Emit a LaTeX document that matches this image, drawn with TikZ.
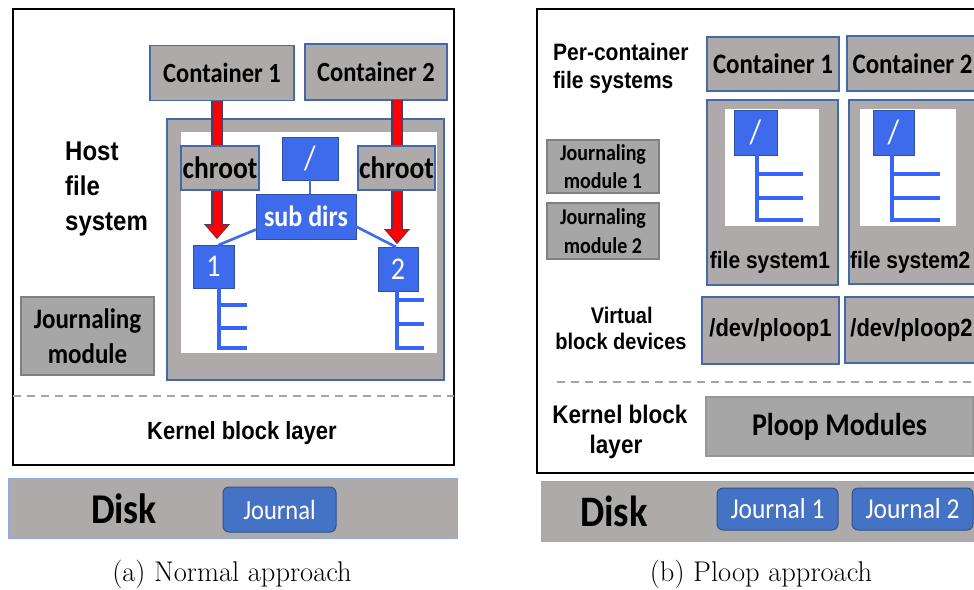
\documentclass[tikz,border=0pt]{standalone}
\usepackage{fontspec}
\usepackage{graphicx}
\usetikzlibrary{arrows.meta,calc}
\newfontfamily\calfam{Carlito}
\newfontfamily\arifam{Liberation Sans}
\newcommand\fcb[1]{\calfam\bfseries\fontsize{#1}{#1}\selectfont}
\newcommand\fcbl[2]{\calfam\bfseries\fontsize{#1}{#2}\selectfont}
\newcommand\fcreg[1]{\calfam\fontsize{#1}{#1}\selectfont}
\newcommand\fab[1]{\arifam\bfseries\fontsize{#1}{#1}\selectfont}
\newcommand\vs[1]{\scalebox{1}[1.13]{#1}}
\definecolor{boxgray}{RGB}{174,170,170}
\definecolor{boxedge}{RGB}{68,105,170}
\definecolor{jmgray}{RGB}{166,166,166}
\definecolor{jmedge}{RGB}{128,128,128}
\definecolor{ploopedge}{RGB}{150,150,150}
\definecolor{rootblue}{RGB}{62,106,236}
\definecolor{rootedge}{RGB}{50,80,160}
\definecolor{treeblue}{RGB}{55,100,250}
\definecolor{jblue}{RGB}{68,114,196}
\definecolor{jedge}{RGB}{47,82,143}
\definecolor{diskedge}{RGB}{143,170,220}
\definecolor{dashgray}{RGB}{165,165,165}
\definecolor{arrowedge}{RGB}{70,60,110}
\begin{document}
\begin{tikzpicture}[x=1pt,y=-1pt,
 box/.style={inner sep=0pt,outer sep=0pt,align=center},
 gbox/.style={box,draw=boxedge,fill=boxgray,line width=1.2pt},
 jbox/.style={box,draw=jmedge,fill=jmgray,line width=1.2pt},
 rbox/.style={box,draw=rootedge,fill=rootblue,line width=0.8pt,text=white},
 jnl/.style={box,draw=jedge,fill=jblue,line width=1pt,rounded corners=6pt,text=white},
 dbox/.style={box,draw=diskedge,fill=boxgray,line width=1pt},
 frame/.style={box,draw=black,line width=1.2pt},
 whitebox/.style={box,fill=white},
 tree/.style={draw=treeblue,line width=3.3pt},
 lnk/.style={draw=rootblue,line width=2.6pt},
 sep/.style={draw=dashgray,line width=1.6pt,dash pattern=on 8pt off 6pt},
 lbl/.style={inner sep=0pt,anchor=base},
 arrout/.style={draw=arrowedge,line width=11.5pt,-{Triangle[width=26pt,length=15pt,line width=0.01pt]}},
 arrin/.style={draw=red,line width=9pt,-{Triangle[width=22pt,length=12.5pt,line width=0.01pt]}},
]
\useasboundingbox (0,0) rectangle (974,589);
\clip (0,0) rectangle (974,589);

% ===== panel (a) =====
\node[frame,minimum width=441,minimum height=456] (outA) at (233.5,237) {};
\node[gbox,minimum width=144,minimum height=55,font=\fcb{24.5}] (c1A) at (222,73.3) {\vs{Container 1}};
\node[gbox,minimum width=142,minimum height=56,font=\fcb{24.5}] (c2A) at (376,72) {\vs{Container 2}};
\node[gbox,minimum width=277,minimum height=261] (hostA) at (305.5,249.5) {};
\node[whitebox,minimum width=256,minimum height=221] (wA) at (309,242.5) {};
\node[rbox,minimum width=56,minimum height=43,font=\fcreg{30}] (rootA) at (310,158.5) {\vs{/}};
\node[rbox,minimum width=100,minimum height=45,font=\fcb{26}] (subA) at (306,216.5) {\vs{sub dirs}};
\node[rbox,minimum width=41,minimum height=43,font=\fcreg{28}] (n1A) at (213.5,266.5) {\vs{1}};
\node[rbox,minimum width=40,minimum height=44,font=\fcreg{28}] (n2A) at (398,269) {\vs{2}};
\draw[lnk,line width=1.8pt] (rootA.south) -- (rootA.south |- subA.north);
\draw[lnk] ([yshift=-13]subA.west) -- ([xshift=5]n1A.north);
\draw[lnk] ([yshift=-10]subA.east) -- ([xshift=-2]n2A.north);
\draw[tree] ([xshift=5.5]n1A.south) -- ++(0,60) -- ++(28,0);
\draw[tree] ([xshift=5.5]n1A.south) ++(0,17) -- ++(28,0);
\draw[tree] ([xshift=5.5]n1A.south) ++(0,40) -- ++(28,0);
\draw[tree] ([xshift=-1]n2A.south) -- ++(0,57) -- ++(27,0);
\draw[tree] ([xshift=-1]n2A.south) ++(0,9) -- ++(27,0);
\draw[tree] ([xshift=-1]n2A.south) ++(0,33) -- ++(27,0);
\draw[arrout,shorten >=6pt] ([xshift=-5]c1A.south) -- ([xshift=-5]c1A.south |- n1A.north);
\draw[arrin,shorten >=7.3pt] ([xshift=-5]c1A.south) -- ([xshift=-5]c1A.south |- n1A.north);
\draw[arrout,shorten >=3pt] ([xshift=21]c2A.south) -- ([xshift=21]c2A.south |- n2A.north);
\draw[arrin,shorten >=4.3pt] ([xshift=21]c2A.south) -- ([xshift=21]c2A.south |- n2A.north);
\node[gbox,minimum width=78,minimum height=44,font=\fcb{27.5}] (ch1A) at (220,168) {\vs{chroot}};
\node[gbox,minimum width=77,minimum height=44,font=\fcb{27.5}] (ch2A) at (396.5,168) {\vs{chroot}};
\node[lbl,anchor=base west,font=\fab{24}] (h1) at (65,160) {\vs{Host}};
\node[lbl,anchor=base west,font=\fab{24}] (h2) at (65,195) {\vs{file}};
\node[lbl,anchor=base west,font=\fab{24}] (h3) at (65,230) {\vs{system}};
\node[jbox,minimum width=133,minimum height=78,font=\fcbl{25}{35}] (jmA) at (87.5,336) {\vs{Journaling}\\\vs{module}};
\coordinate (sA) at (13,396);
\draw[sep] (sA) -- (sA -| outA.east);
\node[lbl,font=\fab{22}] (kA) at (242,439) {\vs{Kernel block layer}};
\node[dbox,minimum width=449,minimum height=60] (dA) at (232.5,508) {};
\node[lbl,font=\fcb{37.5}] (dtA) at (124,523) {\vs{Disk}};
\node[jnl,minimum width=113,minimum height=45,font=\fcreg{24.5}] (jA) at (279.5,509.5) {\vs{Journal}};
\node[lbl,font=\fontsize{28.5}{32}\selectfont] (capA) at (232,581) {(a) Normal approach};

% ===== panel (b) =====
\node[frame,minimum width=453,minimum height=464] (outB) at (763.5,241) {};
\node[lbl,anchor=base west,font=\fab{21}] (pc1) at (553,60) {\vs{Per-container}};
\node[lbl,anchor=base west,font=\fab{21}] (pc2) at (553,88) {\vs{file systems}};
\node[gbox,minimum width=132,minimum height=54,font=\fcb{25}] (c1B) at (773,64) {\vs{Container 1}};
\node[gbox,minimum width=131,minimum height=55,font=\fcb{25}] (c2B) at (912.5,63.5) {\vs{Container 2}};
\node[gbox,minimum width=131,minimum height=185] (fs1B) at (772.5,192.5) {};
\node[whitebox,minimum width=94,minimum height=117] (w1B) at (772,167.5) {};
\node[rbox,minimum width=43,minimum height=45,font=\fcreg{30}] (r1B) at (755.5,132.5) {\vs{/}};
\draw[tree] ([xshift=1.5]r1B.south) -- ++(0,65) -- ++(46,0);
\draw[tree] ([xshift=1.5]r1B.south) ++(0,19) -- ++(46,0);
\draw[tree] ([xshift=1.5]r1B.south) ++(0,43) -- ++(46,0);
\node[lbl,font=\fab{21}] (fsl1) at (770,268) {\vs{file system1}};
\node[gbox,minimum width=129,minimum height=184] (fs2B) at (913.5,192) {};
\node[whitebox,minimum width=96,minimum height=117] (w2B) at (908,167.5) {};
\node[rbox,minimum width=41,minimum height=45,font=\fcreg{30}] (r2B) at (893.5,132.5) {\vs{/}};
\draw[tree] ([xshift=-1.5]r2B.south) -- ++(0,65) -- ++(48,0);
\draw[tree] ([xshift=-1.5]r2B.south) ++(0,19) -- ++(48,0);
\draw[tree] ([xshift=-1.5]r2B.south) ++(0,43) -- ++(48,0);
\node[lbl,anchor=base west,font=\fab{21}] (fsl2) at (850,268) {\vs{file system2}};
\node[jbox,minimum width=112,minimum height=53,font=\fcbl{20}{28}] (jm1B) at (603,166.5) {\vs{Journaling}\\\vs{module 1}};
\node[jbox,minimum width=112,minimum height=56,font=\fcbl{20}{29}] (jm2B) at (603,231) {\vs{Journaling}\\\vs{module 2}};
\node[lbl,font=\fab{20}] (v1) at (621.7,323) {\vs{Virtual}};
\node[lbl,font=\fab{20}] (v2) at (621,349) {\vs{block devices}};
\node[gbox,minimum width=137,minimum height=67,font=\fab{22}] (d1B) at (770.5,330.5) {\vs{/dev/ploop1}};
\node[gbox,minimum width=133,minimum height=66,font=\fab{22}] (d2B) at (911.5,330) {\vs{/dev/ploop2}};
\coordinate (sB) at (557,382);
\coordinate (sBe) at (990,382);
\draw[sep] (sB) -- (sBe);
\node[lbl,font=\fab{22.5}] (kb1) at (620,423) {\vs{Kernel block}};
\node[lbl,font=\fab{22.5}] (kb2) at (616,453) {\vs{layer}};
\node[jbox,draw=ploopedge,minimum width=267,minimum height=59,font=\fcb{28}] (pm) at (839.5,426.5) {\vs{Ploop Modules}};
\node[dbox,minimum width=449,minimum height=60] (dB) at (765.5,511) {};
\node[lbl,font=\fcb{38.5}] (dtB) at (614,526) {\vs{Disk}};
\node[jnl,minimum width=121,minimum height=42,font=\fcreg{25.5}] (j1B) at (777.5,509) {\vs{Journal 1}};
\node[jnl,minimum width=121,minimum height=42,font=\fcreg{25.5}] (j2B) at (912.5,509) {\vs{Journal 2}};
\node[lbl,font=\fontsize{28.5}{32}\selectfont] (capB) at (761,581) {(b) Ploop approach};
\end{tikzpicture}
\end{document}
